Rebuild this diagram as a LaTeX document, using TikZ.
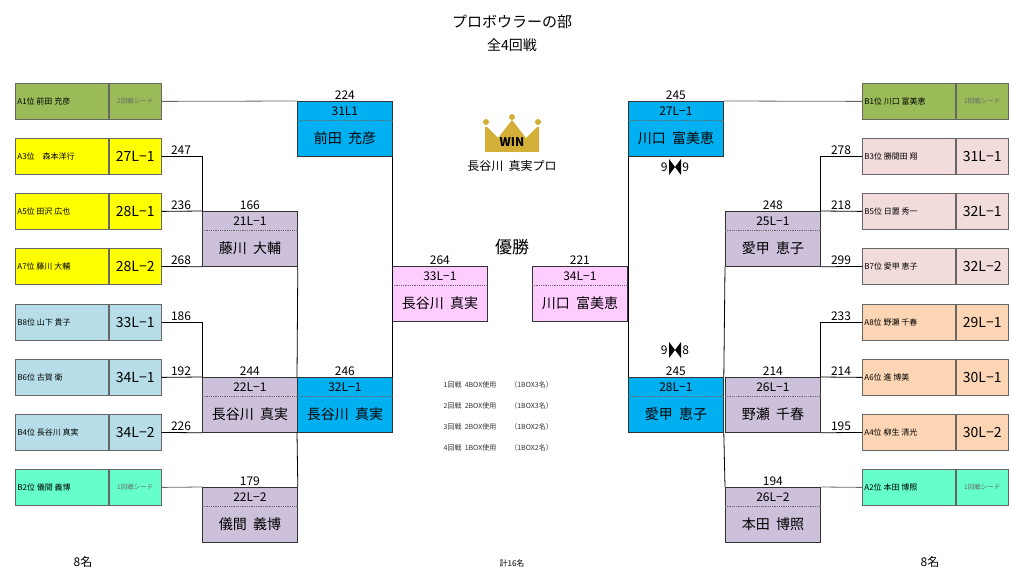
\documentclass[tikz,border=0pt]{standalone}
\usepackage{fontspec}
\setmainfont{Noto Sans CJK JP}
\definecolor{olv}{RGB}{155, 187, 89}
\definecolor{ylw}{RGB}{255, 255, 0}
\definecolor{lbl}{RGB}{183, 222, 232}
\definecolor{mnt}{RGB}{102, 255, 204}
\definecolor{prp}{RGB}{204, 192, 218}
\definecolor{blu}{RGB}{0, 176, 240}
\definecolor{pnk}{RGB}{255, 204, 255}
\definecolor{ppk}{RGB}{242, 220, 219}
\definecolor{pch}{RGB}{252, 213, 180}
\definecolor{gld}{RGB}{212, 175, 55}
\tikzset{
  seedname/.style={draw=black!60, minimum width=93pt, minimum height=36pt, inner sep=0pt, anchor=north west},
  seedcode/.style={draw=black!60, minimum width=52pt, minimum height=36pt, inner sep=0pt, anchor=north west, font=\fontsize{14}{16}\selectfont},
  seedtxt/.style={anchor=west, inner sep=2pt, font=\fontsize{8}{10}\selectfont},
  match/.style={draw=black!80, minimum width=95pt, minimum height=55pt, inner sep=0pt, anchor=north west},
  mcode/.style={font=\fontsize{12}{14}\selectfont, inner sep=0pt},
  mname/.style={font=\fontsize{14}{16}\selectfont, inner sep=0pt},
  score/.style={font=\fontsize{12}{14}\selectfont, inner sep=1pt, anchor=south},
  note/.style={font=\fontsize{7}{9}\selectfont, text=black!80, anchor=west},
}
\newcommand{\seedtag}{\fontsize{6.5}{8}\selectfont\color{black!60}}
% seed box: id, x, y, colour, label, code
\newcommand{\seedbox}[6]{%
  \node[seedname, fill=#4] (#1n) at (#2, #3) {};
  \node[seedtxt] (#1t) at (#1n.west) {#5};
  \node[seedcode, fill=#4] (#1c) at (#1n.north east) {#6};}
% match box: id, x, y, colour, code, name, score
\newcommand{\matchbox}[7]{%
  \node[match, fill=#4, label={[score]above:#7}] (#1) at (#2, #3) {};
  \draw[densely dotted, black!60] ([yshift=-19pt]#1.north west) -- ([yshift=-19pt]#1.north east);
  \node[mcode] (#1a) at ([yshift=-10pt]#1.north) {#5};
  \node[mname] (#1b) at ([yshift=-37pt]#1.north) {#6};}

\begin{document}
\begin{tikzpicture}[x=1pt, y=-1pt, line width=0.8pt]
\useasboundingbox (0,0) rectangle (1024,585);
\node (title) at (512,22) {\fontsize{15}{18}\selectfont プロボウラーの部};
\node (sub) at (512,45) {\fontsize{14}{16}\selectfont 全4回戦};

% left seeds
\seedbox{a1}{15}{83}{olv}{A1位\ 前田\ 充彦}{\seedtag 2回戦シード}
\seedbox{a3}{15}{138}{ylw}{A3位\quad 森本洋行}{27L−1}
\seedbox{a5}{15}{193}{ylw}{A5位\ 田沢\ 広也}{28L−1}
\seedbox{a7}{15}{248}{ylw}{A7位\ 藤川\ 大輔}{28L−2}
\seedbox{b8}{15}{304}{lbl}{B8位\ 山下\ 貴子}{33L−1}
\seedbox{b6}{15}{359}{lbl}{B6位\ 古賀\ 衛}{34L−1}
\seedbox{b4}{15}{414}{lbl}{B4位\ 長谷川\ 真実}{34L−2}
\seedbox{b2}{15}{469}{mnt}{B2位\ 儀間\ 義博}{\seedtag 1回戦シード}

% right seeds
\seedbox{rb1}{862}{83}{olv}{B1位\ 川口\ 富美恵}{\seedtag 2回戦シード}
\seedbox{rb3}{862}{138}{ppk}{B3位\ 勝間田\ 翔}{31L−1}
\seedbox{rb5}{862}{193}{ppk}{B5位\ 日置\ 秀一}{32L−1}
\seedbox{rb7}{862}{248}{ppk}{B7位\ 愛甲\ 恵子}{32L−2}
\seedbox{ra8}{862}{304}{pch}{A8位\ 野瀬\ 千春}{29L−1}
\seedbox{ra6}{862}{359}{pch}{A6位\ 進\ 博美}{30L−1}
\seedbox{ra4}{862}{414}{pch}{A4位\ 柳生\ 清光}{30L−2}
\seedbox{ra2}{862}{469}{mnt}{A2位\ 本田\ 博照}{\seedtag 1回戦シード}

% matches
\matchbox{m21}{202}{211}{prp}{21L−1}{藤川\ \ 大輔}{166}
\matchbox{m22}{202}{377}{prp}{22L−1}{長谷川\ \ 真実}{244}
\matchbox{m22b}{202}{487}{prp}{22L−2}{儀間\ \ 義博}{179}
\matchbox{m31}{297}{101}{blu}{31L1}{前田\ \ 充彦}{224}
\matchbox{m32}{297}{377}{blu}{32L−1}{長谷川\ \ 真実}{246}
\matchbox{m33}{392}{266}{pnk}{33L−1}{長谷川\ \ 真実}{264}
\matchbox{m34}{532}{266}{pnk}{34L−1}{川口\ \ 富美恵}{221}
\matchbox{m27}{628}{101}{blu}{27L−1}{川口\ \ 富美恵}{245}
\matchbox{m28}{628}{377}{blu}{28L−1}{愛甲\ \ 恵子}{245}
\matchbox{m25}{725}{211}{prp}{25L−1}{愛甲\ \ 恵子}{248}
\matchbox{m26}{725}{377}{prp}{26L−1}{野瀬\ \ 千春}{214}
\matchbox{m26b}{725}{487}{prp}{26L−2}{本田\ \ 博照}{194}

% left connectors
\draw[black!60] (a1c.east) -- (m31.north west);
\draw (a3c.east) -| (m21.north west);
\draw (a5c.east) -- (m21.north west);
\draw (a7c.east) -- (m21.south west);
\draw (b8c.east) -| (m22.north west);
\draw (b6c.east) -- (m22.north west);
\draw (b4c.east) -- (m22.south west);
\draw[black!60] (b2c.east) -- (m22b.north west);
\draw (m21.south east) -- (m32.north west);
\draw (m32.south west) -- (m22b.north east);
\draw (m31.south east) -- (m32.north east);
% right connectors
\draw[black!60] (rb1n.west) -- (m27.north east);
\draw (rb3n.west) -| (m25.north east);
\draw (rb5n.west) -- (m25.north east);
\draw (rb7n.west) -- (m25.south east);
\draw (ra8n.west) -| (m26.north east);
\draw (ra6n.west) -- (m26.north east);
\draw (ra4n.west) -- (m26.south east);
\draw[black!60] (ra2n.west) -- (m26b.north east);
\draw (m25.south west) -- (m28.north east);
\draw (m28.south east) -- (m26b.north west);
\draw (m27.south west) -- (m28.north west);

% seed scores
\node[score] (s1) at (181,156) {247};
\node[score] (s2) at (181,211) {236};
\node[score] (s3) at (181,266) {268};
\node[score] (s4) at (181,322) {186};
\node[score] (s5) at (181,377) {192};
\node[score] (s6) at (181,432) {226};
\node[score] (s7) at (841,156) {278};
\node[score] (s8) at (841,211) {218};
\node[score] (s9) at (841,266) {299};
\node[score] (s10) at (841,322) {233};
\node[score] (s11) at (841,377) {214};
\node[score] (s12) at (841,432) {195};

% tie marks
\node[score, anchor=east] (t1) at (669,167) {9};
\node[score, anchor=west] (t2) at (681,167) {9};
\fill (669,159) -- (675,167) -- (669,175) -- cycle (681,159) -- (675,167) -- (681,175) -- cycle;
\node[score, anchor=east] (t3) at (669,350) {9};
\node[score, anchor=west] (t4) at (681,350) {8};
\fill (669,342) -- (675,350) -- (669,358) -- cycle (681,342) -- (675,350) -- (681,358) -- cycle;

% crown
\fill[gld] (485,152) -- (485,127) -- (487,127) -- (498,138) -- (512,120) -- (526,138) -- (537,127) -- (539,127) -- (539,152) -- cycle;
\fill[gld] (486,122) circle (3) (512,117) circle (3) (538,122) circle (3);
\node (win) at (512,142) {\fontsize{12}{14}\selectfont\bfseries WIN};
\node (champ) at (512,166) {\fontsize{12}{14}\selectfont 長谷川\ \ 真実プロ};
\node (yusho) at (512,247) {\fontsize{17}{20}\selectfont 優勝};

% notes
\node[note] (n1) at (440,385) {1回戦\ \ 4BOX使用\qquad （1BOX3名）};
\node[note] (n2) at (440,406) {2回戦\ \ 2BOX使用\qquad （1BOX3名）};
\node[note] (n3) at (440,427) {3回戦\ \ 2BOX使用\qquad （1BOX2名）};
\node[note] (n4) at (440,448) {4回戦\ \ 1BOX使用\qquad （1BOX2名）};
\node (total) at (512,563) {\fontsize{8}{10}\selectfont 計16名};
\node (lnum) at (83,562) {\fontsize{12}{14}\selectfont 8名};
\node (rnum) at (930,562) {\fontsize{12}{14}\selectfont 8名};
\end{tikzpicture}
\end{document}
